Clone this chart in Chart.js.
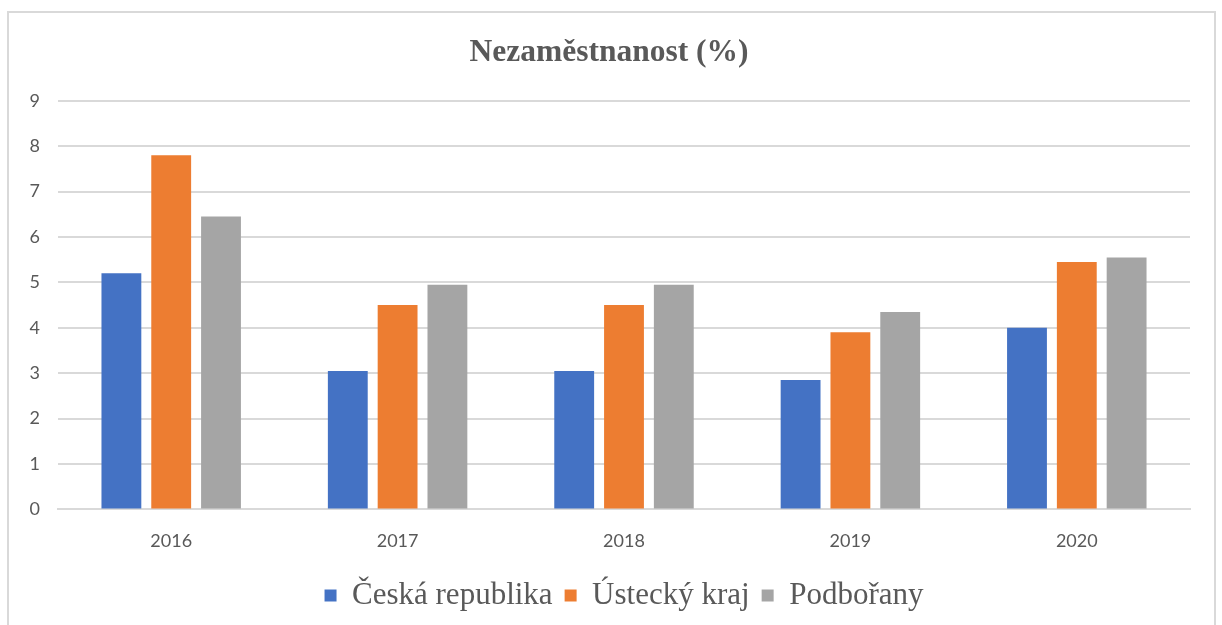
<!DOCTYPE html>
<html>
<head>
<meta charset="utf-8">
<script src="https://cdn.jsdelivr.net/npm/chart.js@4.4.1/dist/chart.umd.min.js"></script>
<style>
  html, body { margin: 0; padding: 0; background: #ffffff; }
  #wrap { position: relative; width: 1222px; height: 625px; overflow: hidden; }
  #frame { position: absolute; left: 7px; top: 11px; width: 1209px; height: 640px; border: 2px solid #d9d9d9; box-sizing: border-box; }
  #c { position: absolute; left: 0; top: 0; }
</style>
</head>
<body>
<div id="wrap">
  <div id="frame"></div>
  <canvas id="c" width="1222" height="625"></canvas>
</div>
<script>
const categories = ["2016", "2017", "2018", "2019", "2020"];
const seriesNames = ["Česká republika", "Ústecký kraj", "Podbořany"];
const ceskaRepublika = [5.2, 3.05, 3.05, 2.85, 4.0];
const usteckyKraj = [7.8, 4.5, 4.5, 3.9, 5.45];
const podborany = [6.45, 4.95, 4.95, 4.35, 5.55];
const seriesColors = ["#4472C4", "#ED7D31", "#A5A5A5"];
const titleText = "Nezaměstnanost (%)";

const allSeries = [ceskaRepublika, usteckyKraj, podborany];

new Chart(document.getElementById("c"), {
  type: "bar",
  data: {
    labels: categories,
    datasets: allSeries.map((vals, i) => ({
      label: seriesNames[i],
      data: vals,
      backgroundColor: seriesColors[i],
      borderWidth: 0,
      categoryPercentage: 0.66,
      barPercentage: 0.8
    }))
  },
  options: {
    responsive: false,
    animation: false,
    devicePixelRatio: 1,
    layout: { padding: { left: 28, right: 32, top: 22, bottom: 4 } },
    plugins: {
      title: {
        display: true,
        text: titleText,
        color: "#595959",
        font: { family: "Liberation Serif", size: 31.5, weight: "bold" },
        padding: { top: 12, bottom: 29 }
      },
      legend: {
        position: "bottom",
        fullSize: false,
        labels: {
          color: "#595959",
          font: { family: "Liberation Serif", size: 31 },
          boxWidth: 12,
          boxHeight: 12,
          padding: 12
        }
      },
      tooltip: { enabled: false }
    },
    scales: {
      x: {
        grid: { display: false },
        border: { color: "#d9d9d9", width: 2 },
        ticks: { color: "#595959", font: { family: "Lato", size: 18 }, padding: 13 },
        afterFit: (scale) => { scale.height += 3; }
      },
      y: {
        min: 0,
        max: 9,
        ticks: { stepSize: 1, color: "#595959", font: { family: "Lato", size: 18 }, padding: 18 },
        grid: { color: "#d9d9d9", lineWidth: 2, drawTicks: false },
        border: { display: false },
        afterFit: (scale) => { scale.width = 30; }
      }
    }
  }
});
</script>
</body>
</html>
